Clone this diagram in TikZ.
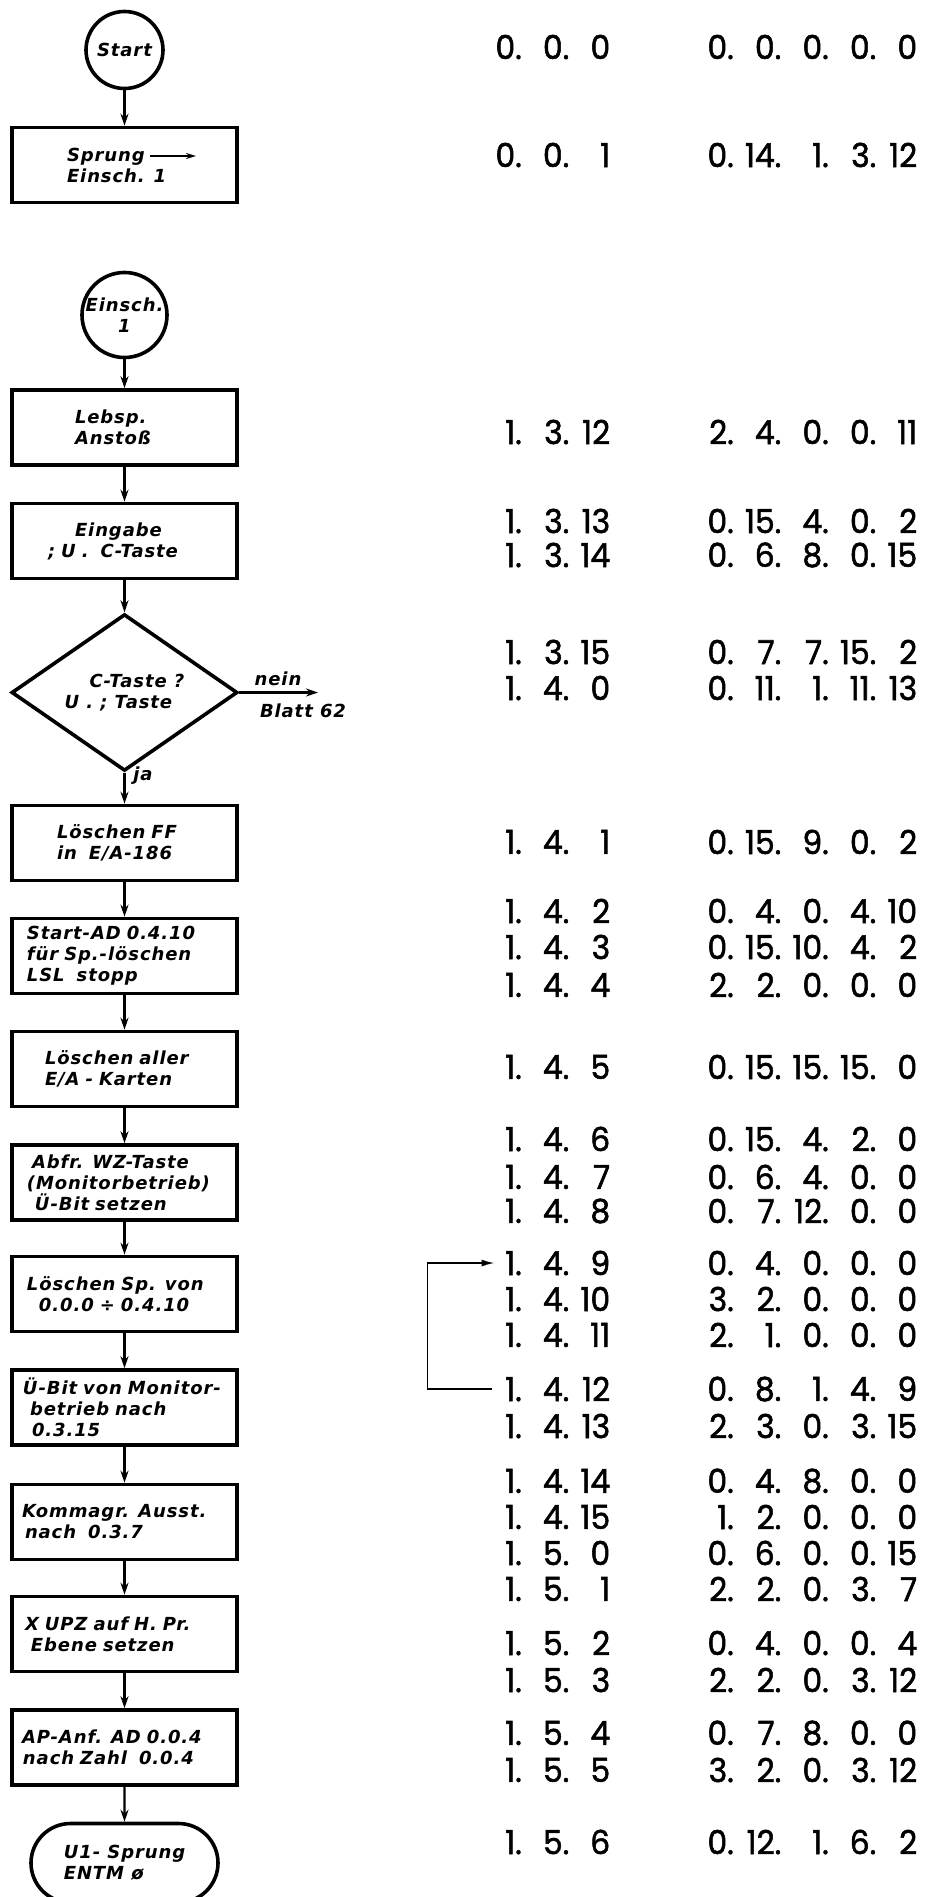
\documentclass[tikz,border=0pt]{standalone}
\usepackage{fontspec}
\usetikzlibrary{shapes.geometric,shapes.misc,arrows.meta}
\newfontfamily\flfont{DejaVu Sans}[LetterSpace=5]
\newfontfamily\numfont{Poppins}[FakeStretch=0.95,FakeBold=1.6]
\newcommand\nf[1]{\makebox[33.5pt][r]{#1}}
\newcommand\nd{\makebox[14pt][l]{.}}
\def\fieldsA#1.#2.#3\relax{\nf{#1}\nd\nf{#2}\nd\nf{#3}}
\def\fieldsB#1.#2.#3.#4.#5\relax{\nf{#1}\nd\nf{#2}\nd\nf{#3}\nd\nf{#4}\nd\nf{#5}}
\newcommand\ind[1]{\hspace*{#1pt}}
\tikzset{
  fltext/.style={font=\flfont\bfseries\itshape\fontsize{18}{21}\selectfont},
  box/.style={draw, line width=3.6pt, minimum width=225pt, minimum height=75pt,
    inner xsep=10pt, inner ysep=2pt, text width=205pt, align=left, fltext},
  circ/.style={draw, circle, line width=3.6pt, minimum size=77pt, inner sep=0pt, align=center, fltext},
  dia/.style={draw, diamond, line width=3.6pt, minimum width=226pt, minimum height=147pt,
    inner sep=0pt, align=left, fltext},
  term/.style={draw, rounded rectangle, line width=3.6pt, minimum width=191pt, minimum height=79pt,
    inner sep=2pt, align=left, fltext},
  lbl/.style={inner sep=0pt, fltext},
  conn/.style={line width=2.2pt, -{Stealth[length=12pt,width=8pt]}},
  loopl/.style={line width=1.6pt, -{Latex[length=13pt,width=7pt]}},
  num/.style={inner sep=0pt, anchor=west, font=\numfont\fontsize{33}{33}\selectfont},
}
\begin{document}
\begin{tikzpicture}[x=1pt,y=-1pt]
\fill[white] (0,0) rectangle (926,1897);
\useasboundingbox (0,0) rectangle (926,1897);

% flowchart
\node[circ] (start) at (124.5,50) {Start};
\node[box] (b1) at (124.5,165) {\ind{45}Sprung\\\ind{45}Einsch. 1};
\coordinate (sprA) at (150,156);
\coordinate (sprB) at (196,156);
\draw[line width=1.8pt, -{Stealth[length=10pt,width=6pt]}] (sprA) -- (sprB);

\node[circ] (ein) at (124.5,315) {Einsch.\\1};
\node[box] (lebsp) at (124.5,427.5) {\ind{53}Lebsp.\\\ind{53}Anstoß};
\node[box] (eing) at (124.5,541) {\ind{53}Eingabe\\\ind{26}; U . \ C-Taste};
\node[dia] (dec) at (124.5,692.5) {\ind{25}C-Taste ?\\U . ; Taste};
\coordinate (blatt) at (318,692.5);
\node[lbl] (nein) at (278,679) {nein};
\node[lbl] (bl) at (303,711) {Blatt 62};
\node[lbl] (ja) at (143,776) {ja};
\node[box] (lff) at (124.5,843) {\ind{35}Löschen FF\\\ind{35}in \ E/A-186};
\node[box] (sad) at (124.5,956) {\ind{5}Start-AD 0.4.10\\\ind{5}für Sp.-löschen\\\ind{5}LSL \ stopp};
\node[box] (la) at (124.5,1069) {\ind{23}Löschen aller\\\ind{23}E/A - Karten};
\node[box] (abfr) at (124.5,1182.5) {\ind{10}Abfr. WZ-Taste\\\ind{5}(Monitorbetrieb)\\\ind{13}Ü-Bit setzen};
\node[box] (lsp) at (124.5,1294) {\ind{5}Löschen Sp. von\\\ind{17}0.0.0 ÷ 0.4.10};
\node[box] (ubit) at (124.5,1407.5) {\ind{1}Ü-Bit von Monitor-\\\ind{8}betrieb nach\\\ind{10}0.3.15};
\node[box] (komm) at (124.5,1522) {Kommagr. Ausst.\\\ind{3}nach \ 0.3.7};
\node[box] (xupz) at (124.5,1634) {\ind{3}X UPZ auf H. Pr.\\\ind{9}Ebene setzen};
\node[box] (ap) at (124.5,1747.5) {AP-Anf. AD 0.0.4\\\ind{1}nach Zahl \ 0.0.4};
\node[term] (u1) at (124.5,1863) {U1- Sprung\\ENTM ø};

\draw[conn] (start) -- (b1);
\draw[conn] (ein) -- (lebsp);
\draw[conn] (lebsp) -- (eing);
\draw[conn] (eing) -- (dec);
\draw[conn] (dec.east) -- (blatt);
\draw[conn] (dec) -- (lff);
\draw[conn] (lff) -- (sad);
\draw[conn] (sad) -- (la);
\draw[conn] (la) -- (abfr);
\draw[conn] (abfr) -- (lsp);
\draw[conn] (lsp) -- (ubit);
\draw[conn] (ubit) -- (komm);
\draw[conn] (komm) -- (xupz);
\draw[conn] (xupz) -- (ap);
\draw[conn] (ap) -- (u1);

% address / code columns
\foreach \yy/\ca/\cb [count=\i] in {
  47/0.0.0/0.0.0.0.0,
  155/0.0.1/0.14.1.3.12,
  432/1.3.12/2.4.0.0.11,
  521/1.3.13/0.15.4.0.2,
  555/1.3.14/0.6.8.0.15,
  652/1.3.15/0.7.7.15.2,
  688/1.4.0/0.11.1.11.13,
  842/1.4.1/0.15.9.0.2,
  911/1.4.2/0.4.0.4.10,
  947/1.4.3/0.15.10.4.2,
  985/1.4.4/2.2.0.0.0,
  1067/1.4.5/0.15.15.15.0,
  1139/1.4.6/0.15.4.2.0,
  1177/1.4.7/0.6.4.0.0,
  1211/1.4.8/0.7.12.0.0,
  1263/1.4.9/0.4.0.0.0,
  1299/1.4.10/3.2.0.0.0,
  1335/1.4.11/2.1.0.0.0,
  1389/1.4.12/0.8.1.4.9,
  1426/1.4.13/2.3.0.3.15,
  1481/1.4.14/0.4.8.0.0,
  1517/1.4.15/1.2.0.0.0,
  1553/1.5.0/0.6.0.0.15,
  1589/1.5.1/2.2.0.3.7,
  1643/1.5.2/0.4.0.0.4,
  1680/1.5.3/2.2.0.3.12,
  1733/1.5.4/0.7.8.0.0,
  1770/1.5.5/3.2.0.3.12,
  1842/1.5.6/0.12.1.6.2} {
  \node[num] (c1-\i) at (481.5,\yy) {\expandafter\fieldsA\ca\relax};
  \node[num] (c2-\i) at (693.5,\yy) {\expandafter\fieldsB\cb\relax};
}
\draw[loopl] ([xshift=10pt]c1-19.west) -- ++(-64,0) |- ([xshift=13pt]c1-16.west);
\end{tikzpicture}
\end{document}
